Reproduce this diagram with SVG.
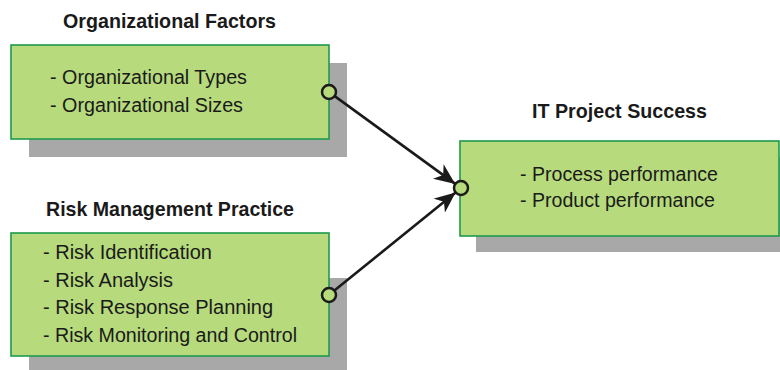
<svg xmlns="http://www.w3.org/2000/svg" width="780" height="370" viewBox="0 0 780 370">
<style>
.shadow{fill:#a8a8a8}
.box{fill:#b6da7c;stroke:#1f9a4e;stroke-width:1.6}
.port{fill:#b6da7c;stroke:#1a1a1a;stroke-width:2.5}
.title{font-family:"Liberation Sans",Arial,sans-serif;font-weight:bold;font-size:21px;fill:#1a1a1a}
.item{font-family:"Liberation Sans",Arial,sans-serif;font-size:20px;fill:#1a1a1a}
.conn{stroke:#1a1a1a;stroke-width:2.6;fill:none}
</style>
<defs>
<marker id="arrow" markerUnits="userSpaceOnUse" markerWidth="22" markerHeight="18" viewBox="0 0 22 18" refX="21" refY="9" orient="auto">
<path d="M0,0 L21,9 L0,18 L6,9 Z" fill="#1a1a1a"/>
</marker>
</defs>
<rect width="780" height="370" fill="#ffffff"/>
<g id="node-org">
<rect class="shadow" x="29" y="63" width="318" height="94"/>
<rect class="box" x="11" y="45" width="318" height="94"/>
<text class="title" x="63" y="28" textLength="213" lengthAdjust="spacingAndGlyphs">Organizational Factors</text>
<text class="item" x="50" y="84" textLength="197" lengthAdjust="spacingAndGlyphs">- Organizational Types</text>
<text class="item" x="50" y="111.5" textLength="193" lengthAdjust="spacingAndGlyphs">- Organizational Sizes</text>
<circle class="port" cx="329" cy="92" r="7"/>
</g>
<g id="node-risk">
<rect class="shadow" x="29" y="278" width="318" height="96"/>
<rect class="box" x="11" y="233" width="318" height="123"/>
<text class="title" x="46" y="216" textLength="248" lengthAdjust="spacingAndGlyphs">Risk Management Practice</text>
<text class="item" x="43" y="259">- Risk Identification</text>
<text class="item" x="43" y="287">- Risk Analysis</text>
<text class="item" x="43" y="314">- Risk Response Planning</text>
<text class="item" x="43" y="342" textLength="254" lengthAdjust="spacingAndGlyphs">- Risk Monitoring and Control</text>
<circle class="port" cx="329" cy="295" r="7"/>
</g>
<g id="node-it">
<rect class="shadow" x="476" y="157" width="320" height="95"/>
<rect class="box" x="460" y="141" width="319" height="95"/>
<text class="title" x="532" y="118" textLength="175" lengthAdjust="spacingAndGlyphs">IT Project Success</text>
<text class="item" x="520" y="181" textLength="198" lengthAdjust="spacingAndGlyphs">- Process performance</text>
<text class="item" x="520" y="207" textLength="195" lengthAdjust="spacingAndGlyphs">- Product performance</text>
<circle class="port" cx="461" cy="188" r="7"/>
</g>
<g id="connectors">
<line class="conn" x1="334.7" y1="96.1" x2="455.3" y2="183.9" marker-end="url(#arrow)"/>
<line class="conn" x1="334.4" y1="290.6" x2="455.6" y2="192.4" marker-end="url(#arrow)"/>
</g>
</svg>
